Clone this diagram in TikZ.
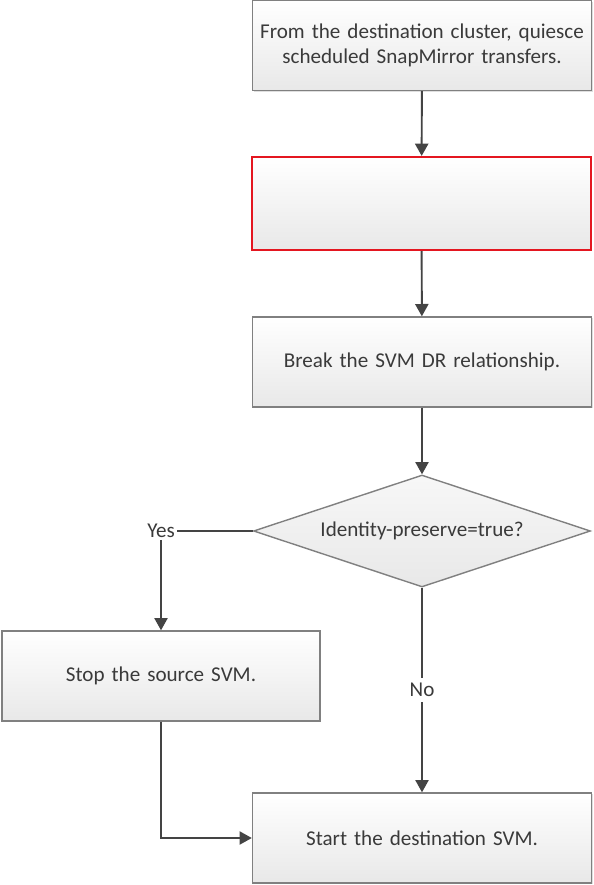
\documentclass[tikz,border=0pt]{standalone}
\usepackage{fontspec}
\setmainfont{Carlito}
\usepackage{tikz}
\usetikzlibrary{shapes.geometric, arrows.meta, shadows}

\definecolor{txtgray}{RGB}{58,58,58}
\definecolor{linegray}{RGB}{68,68,68}
\definecolor{boxred}{RGB}{228,22,32}

\begin{document}
\begin{tikzpicture}[font=\fontsize{12}{14.2}\selectfont, text=txtgray]
      \tikzstyle{stepbox} = [
        rectangle,
        draw=black!50,
        line width=0.8pt,
        top color=white,
        bottom color=black!9,
        drop shadow={shadow xshift=0.7pt, shadow yshift=-0.7pt, opacity=0.25},
        text width = 6.6cm,
        align=center,
        minimum width = 6.78cm,
        minimum height = 1.8cm,
        inner sep = 0pt
      ]

      \tikzstyle{redbox} = [
        stepbox,
        draw=boxred,
        line width=1.2pt,
        minimum height = 1.86cm
      ]

      \tikzstyle{decision} = [
        diamond,
        draw=black!50,
        line width=0.8pt,
        top color=black!3,
        bottom color=black!9,
        shape aspect = 3,
        minimum width = 6.74cm,
        minimum height = 2.24cm,
        inner sep = 0pt
      ]

      \tikzstyle{flow} = [
        draw=linegray,
        line width=1.1pt,
        -{Triangle[length=7pt, width=7.5pt]}
      ]

      \useasboundingbox (0,0) rectangle (11.86,-17.7);

      \node[stepbox] (quiesce) at (8.44,-0.91) {From the destination cluster, quiesce\\scheduled SnapMirror transfers.};
      \node[redbox] (blank) at (8.43,-4.07) {};
      \node[stepbox] (breakdr) at (8.44,-7.24) {Break the SVM DR relationship.};
      \node[decision] (identity) at (8.44,-10.62) {Identity-preserve=true?};
      \node[stepbox, minimum width = 6.36cm, text width = 6cm] (stopsrc) at (3.22,-13.52) {Stop the source SVM.};
      \node[stepbox] (startdst) at (8.44,-16.76) {Start the destination SVM.};

      \node[inner sep=1pt] (yes) at (3.22,-10.62) {Yes};

      \draw[flow] (quiesce) -- (blank);
      \draw[flow] (blank) -- (breakdr);
      \draw[flow] (breakdr) -- (identity);
      \draw[flow, -] (identity.west) -- (yes.east);
      \draw[flow] (yes.south) -- (stopsrc.north);
      \draw[flow] (stopsrc.south) |- (startdst.west);
      \draw[flow] (identity.south) -- (startdst.north)
        node[midway, fill=white, inner sep=3pt] {No};
    \end{tikzpicture}
\end{document}
